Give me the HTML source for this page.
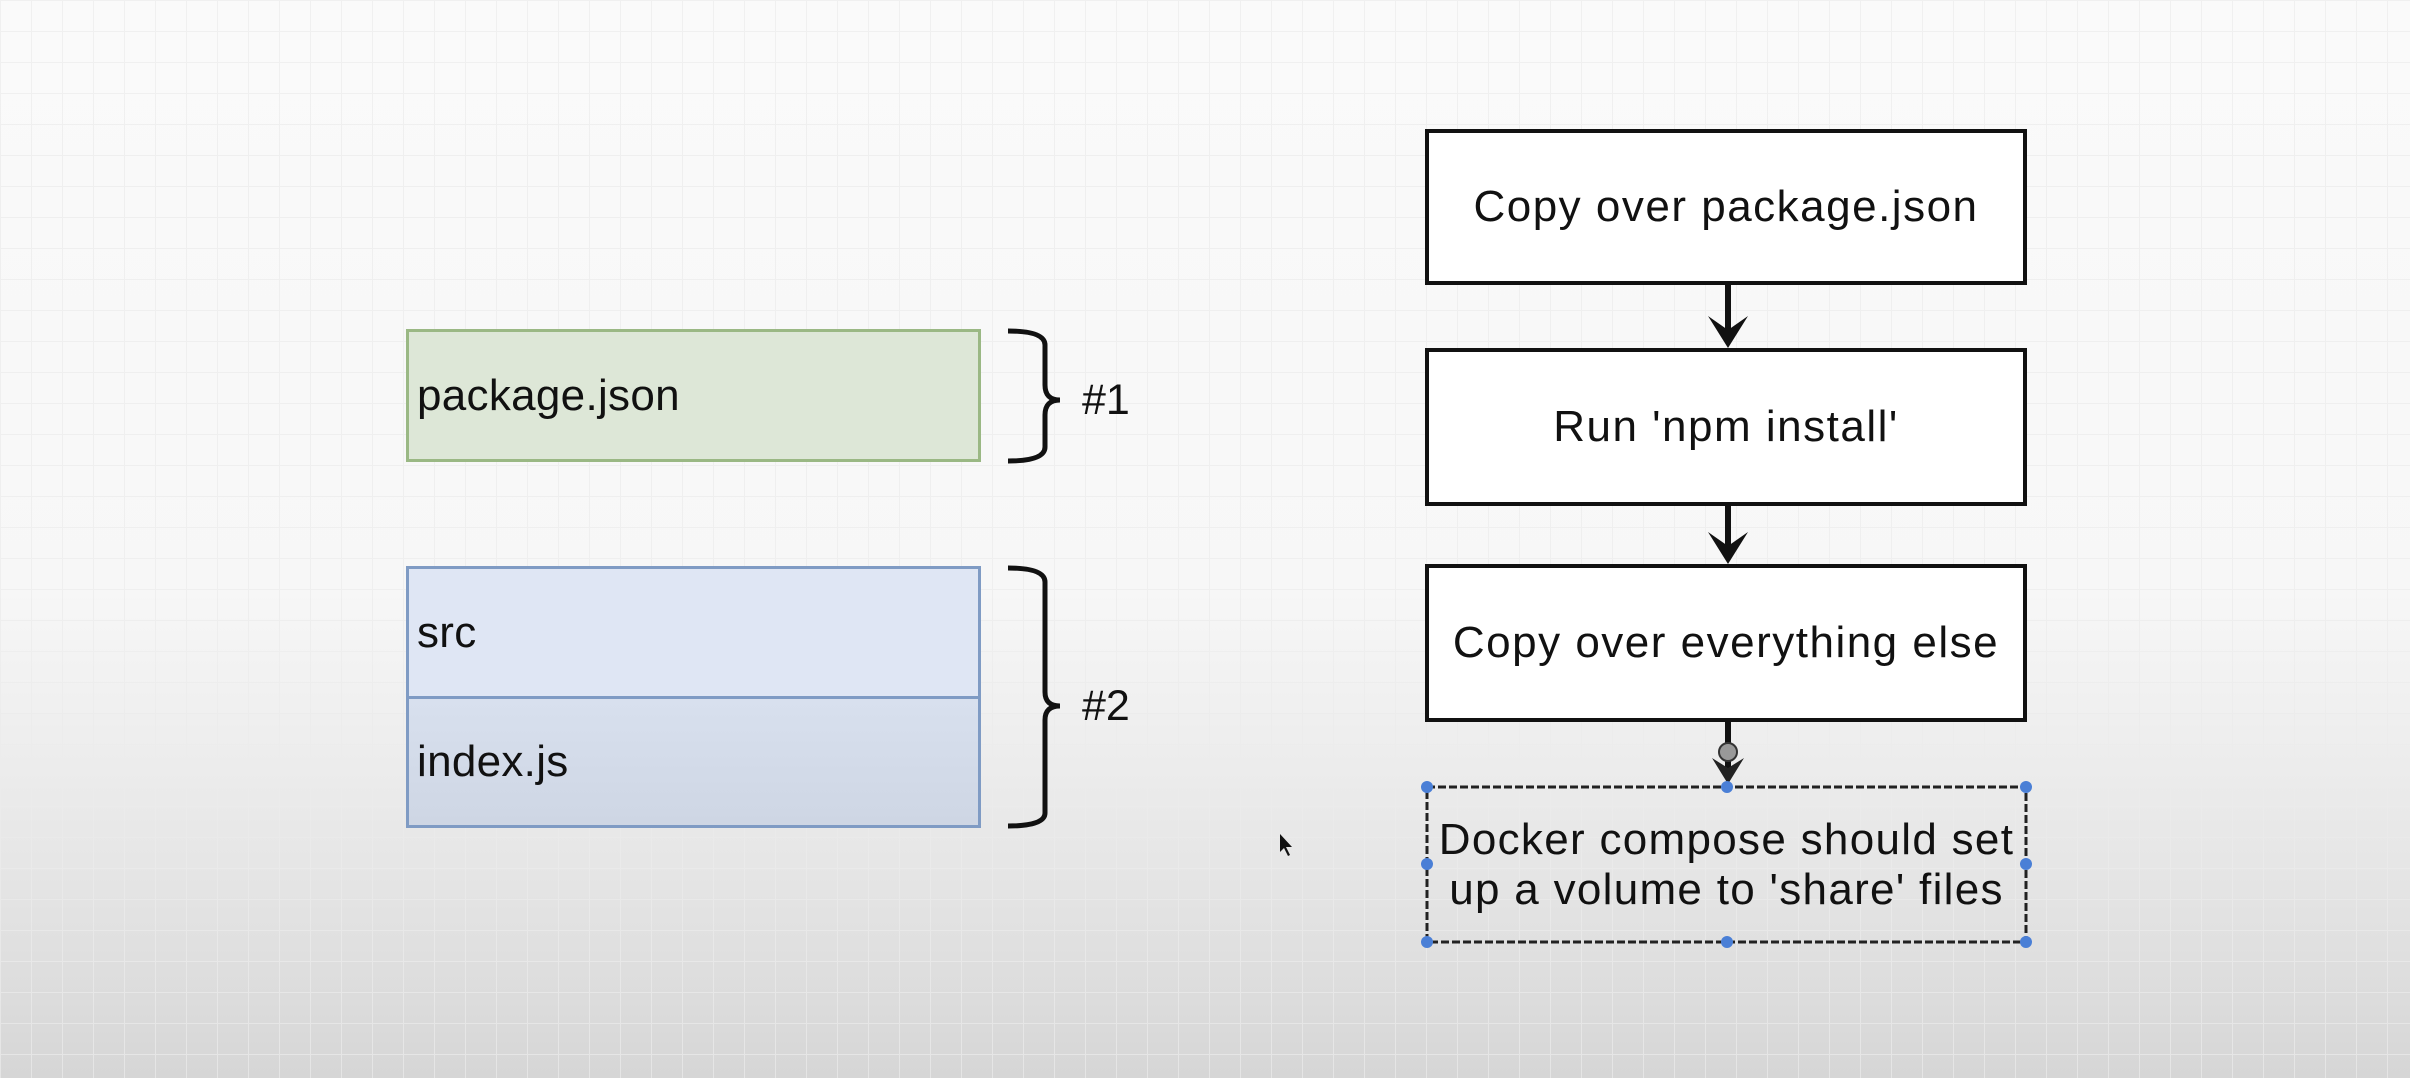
<!DOCTYPE html>
<html><head><style>
html,body{margin:0;padding:0}
body{width:2410px;height:1078px;position:relative;overflow:hidden;font-family:"Liberation Sans",Arial,sans-serif;
background:linear-gradient(to bottom,#fafafa 0%,#f7f7f7 55%,#e6e6e6 80%,#d6d6d6 100%);}
.grid{position:absolute;inset:0;background-image:linear-gradient(#ececec 1px,transparent 1px),linear-gradient(90deg,#ececec 1px,transparent 1px);background-size:31px 31px;opacity:.7}
.b{position:absolute;box-sizing:border-box;display:flex;align-items:center;color:#111}
.r{border:4px solid #111;background:#fff;justify-content:center;font-size:44px;letter-spacing:1.5px}
.t{position:absolute;font-size:43px;color:#111}
.l{font-size:44px;padding-left:8px;letter-spacing:.3px}
</style></head><body>
<div class="grid"></div>
<div class="b l" style="left:406px;top:329px;width:575px;height:133px;background:#dde7d7;border:3px solid #9ab884">package.json</div>
<div class="b l" style="left:406px;top:566px;width:575px;height:131px;background:#dfe6f4;border:3px solid #7f9bc4;border-bottom:none">src</div>
<div class="b l" style="left:406px;top:696px;width:575px;height:132px;background:linear-gradient(#d8e0ee,#ced6e4);border:3px solid #7f9bc4">index.js</div>
<svg width="2410" height="1078" style="position:absolute;left:0;top:0">
<path d="M1008 331 Q1045 331 1045 345 L1045 385 Q1045 400 1060 400 Q1045 400 1045 415 L1045 447 Q1045 461 1008 461" fill="none" stroke="#111" stroke-width="5"/>
<path d="M1008 568 Q1045 568 1045 582 L1045 692 Q1045 706 1060 706 Q1045 706 1045 720 L1045 813 Q1045 826 1008 826" fill="none" stroke="#111" stroke-width="5"/>
<line x1="1728" y1="284" x2="1728" y2="340" stroke="#111" stroke-width="6"/>
<polygon points="1708,316 1728,330 1748,316 1728,348" fill="#111"/>
<line x1="1728" y1="504" x2="1728" y2="556" stroke="#111" stroke-width="6"/>
<polygon points="1708,532 1728,546 1748,532 1728,564" fill="#111"/>
<line x1="1728" y1="721" x2="1728" y2="770" stroke="#111" stroke-width="6"/>
<polygon points="1712,758 1728,768 1744,758 1728,784" fill="#222"/>
<circle cx="1728" cy="752" r="9" fill="#999" stroke="#333" stroke-width="2"/>
<rect x="1427" y="787" width="599" height="155" fill="none" stroke="#222" stroke-width="3" stroke-dasharray="8,3"/>
<g fill="#4a7fd6">
<circle cx="1427" cy="787" r="6"/><circle cx="1727" cy="787" r="6"/><circle cx="2026" cy="787" r="6"/>
<circle cx="1427" cy="864" r="6"/><circle cx="2026" cy="864" r="6"/>
<circle cx="1427" cy="942" r="6"/><circle cx="1727" cy="942" r="6"/><circle cx="2026" cy="942" r="6"/>
</g>
<path d="M1280 834 L1280 852 L1284 848 L1288 856 L1290 855 L1286 847 L1292 847 Z" fill="#111"/>
</svg>
<div class="t" style="left:1082px;top:376px">#1</div>
<div class="t" style="left:1082px;top:682px">#2</div>
<div class="b r" style="left:1425px;top:129px;width:602px;height:156px">Copy over package.json</div>
<div class="b r" style="left:1425px;top:348px;width:602px;height:158px">Run 'npm install'</div>
<div class="b r" style="left:1425px;top:564px;width:602px;height:158px">Copy over everything else</div>
<div class="b" style="left:1427px;top:787px;width:599px;height:155px;justify-content:center;text-align:center;font-size:44px;line-height:50px;letter-spacing:1.3px">Docker compose should set<br>up a volume to 'share' files</div>
</body></html>
